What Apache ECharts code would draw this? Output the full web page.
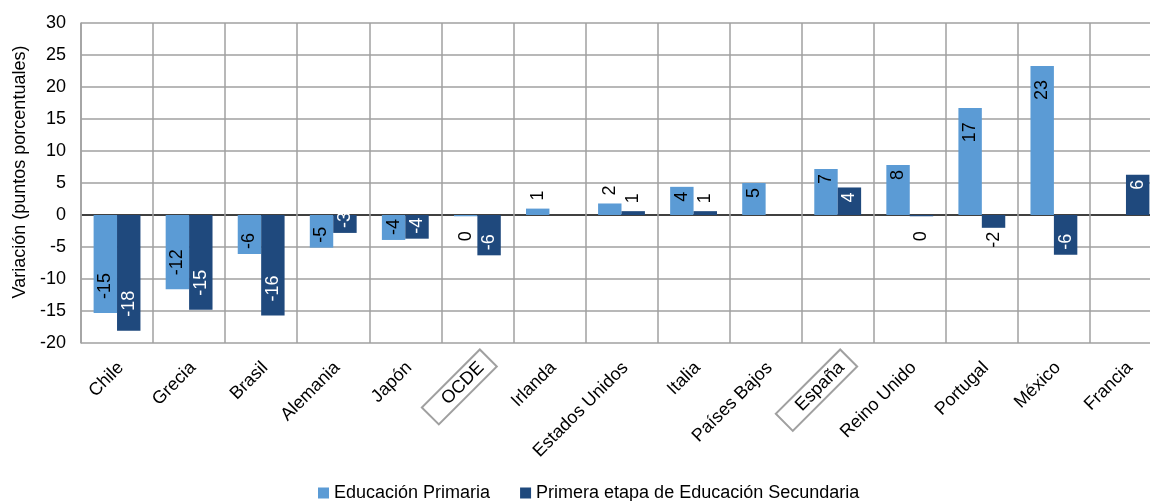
<!DOCTYPE html>
<html>
<head>
<meta charset="utf-8">
<script src="https://cdn.jsdelivr.net/npm/echarts@6/dist/echarts.min.js"></script>
<style>
html,body{margin:0;padding:0;background:#fff;}
#chart{width:1150px;height:501px;}
</style>
</head>
<body>
<div id="chart"></div>
<script>
const categories = ['Chile','Grecia','Brasil','Alemania','Japón','OCDE','Irlanda','Estados Unidos','Italia','Países Bajos','España','Reino Unido','Portugal','México','Francia'];
const boxedCategories = ['OCDE','España'];
const primaria = [-15.3,-11.6,-6.1,-5.1,-3.9,-0.2,1.0,1.8,4.4,5.0,7.2,7.8,16.7,23.3,null];
const secundaria = [-18.1,-14.8,-15.7,-2.8,-3.7,-6.3,null,0.6,0.6,null,4.3,-0.2,-2.0,-6.2,6.3];
const seriesNames = ['Educación Primaria','Primera etapa de Educación Secundaria'];
const yTicks = {min:-20, max:30, interval:5};

const FONT = 'Liberation Sans, Arial, sans-serif';
const GRID = '#a0a0a0';

function labelFor(v, insideColor){
  if (v === null) return {};
  const a = Math.abs(v);
  if (v < 0) {
    if (v <= -2.5) return {position:'insideBottom', align:'left', distance: a >= 10 ? 14 : 5, color: insideColor};
    return {position:'bottom', align:'right', distance: a < 1 ? 15 : 4, color:'#000'};
  } else {
    if (v >= 2.5) return {position:'insideTop', align:'right', distance: a >= 10 ? 14 : 5, color: insideColor};
    return {position:'top', align:'left', distance: 8, color:'#000'};
  }
}
function buildData(arr, insideColor){
  return arr.map(v => v === null ? null : ({value: v, label: labelFor(v, insideColor)}));
}

const splitColors = [];
for (let t = yTicks.min; t <= yTicks.max; t += yTicks.interval) splitColors.push(t === 0 ? '#000' : GRID);

const chart = echarts.init(document.getElementById('chart'), null, {renderer:'canvas'});
chart.setOption({
  animation: false,
  textStyle: {fontFamily: FONT},
  grid: {left: 81, width: 1081, top: 23, bottom: 158, containLabel: false, outerBoundsMode: 'none'},
  legend: {
    data: seriesNames,
    left: 313, top: 479,
    icon: 'rect', itemWidth: 11, itemHeight: 11, itemGap: 30,
    textStyle: {fontSize: 18, color: '#000', fontFamily: FONT}
  },
  xAxis: {
    type: 'category',
    data: categories,
    axisLine: {show: false, onZero: false},
    axisTick: {show: false},
    splitLine: {show: true, interval: 0, lineStyle: {color: GRID, width: 1.5}},
    axisLabel: {
      interval: 0, rotate: 45, margin: 4, padding: [31,0,0,0],
      color: '#000', fontFamily: FONT, fontSize: 18,
      formatter: v => boxedCategories.includes(v) ? '{box|' + v + '}' : '{n|' + v + '}',
      rich: {
        n: {fontSize: 18, lineHeight: 19, padding: [3,10,3,20], color: '#000', fontFamily: FONT},
        box: {fontSize: 18, lineHeight: 19, padding: [3,10,3,20], color: '#000', fontFamily: FONT, borderColor: GRID, borderWidth: 2}
      }
    }
  },
  yAxis: {
    type: 'value',
    min: yTicks.min, max: yTicks.max, interval: yTicks.interval,
    name: 'Variación (puntos porcentuales)',
    nameLocation: 'middle', nameGap: 50,
    nameTextStyle: {fontSize: 18, color: '#000', fontFamily: FONT, padding: [0,0,0,22]},
    axisLine: {show: true, lineStyle: {color: GRID, width: 1.5}},
    axisTick: {show: false},
    axisLabel: {fontSize: 18, color: '#000', margin: 15, fontFamily: FONT},
    splitLine: {show: true, lineStyle: {color: splitColors, width: 1.5}}
  },
  series: [
    {
      name: seriesNames[0], type: 'bar', barWidth: '32.5%', barGap: '0%',
      itemStyle: {color: '#5b9bd5'},
      label: {show: true, rotate: 90, verticalAlign: 'middle', fontSize: 18, fontFamily: FONT,
        formatter: p => String(Math.round(p.value))},
      data: buildData(primaria, '#000')
    },
    {
      name: seriesNames[1], type: 'bar', barWidth: '32.5%', barGap: '0%',
      itemStyle: {color: '#1f497d'},
      label: {show: true, rotate: 90, verticalAlign: 'middle', fontSize: 18, fontFamily: FONT,
        formatter: p => String(Math.round(p.value))},
      data: buildData(secundaria, '#fff')
    }
  ]
});
</script>
</body>
</html>
